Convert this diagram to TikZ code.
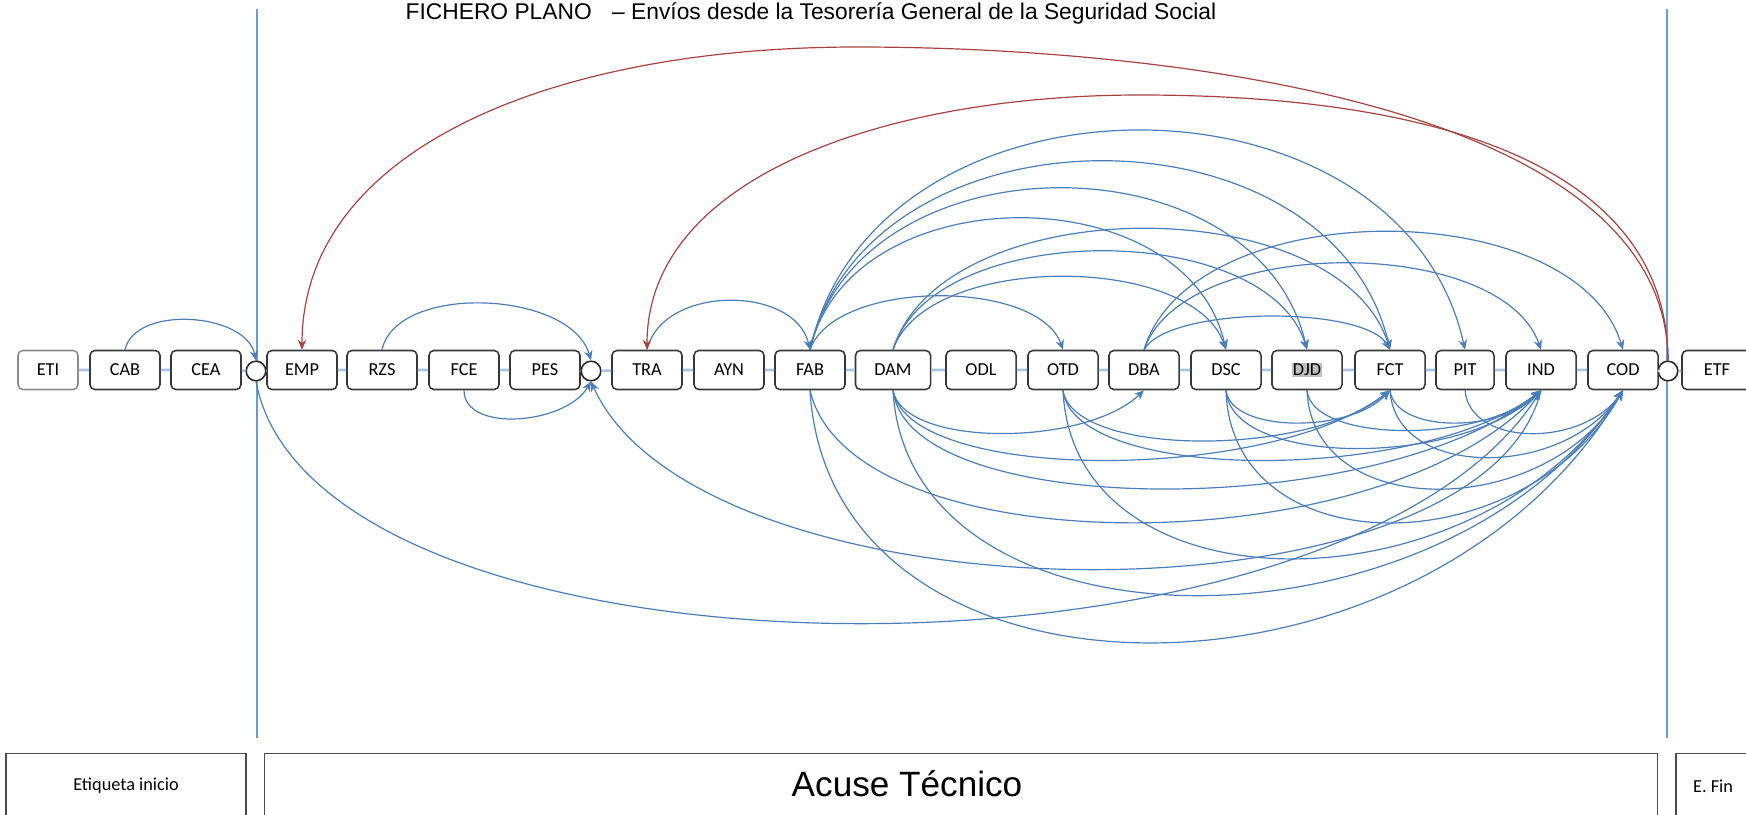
\documentclass[tikz,border=0pt]{standalone}
\usepackage{fontspec}
\setmainfont{Carlito}
\newfontfamily\arialfont{Liberation Sans}
\usepackage{tikz}
\usetikzlibrary{shapes.geometric, arrows.meta, positioning}

\definecolor{arcblue}{HTML}{4A7EBB}
\definecolor{linkblue}{HTML}{A9C5E8}
\definecolor{railblue}{HTML}{6A9BD6}
\definecolor{backred}{HTML}{A8423F}

\begin{document}
\begin{tikzpicture}[
        x=0.025cm, y=-0.025cm,
        seg/.style={rectangle, draw=black!78, line width=1.1pt, rounded corners=3.5pt, fill=white, minimum width=1.75cm, minimum height=0.975cm, inner sep=0pt, font=\fontsize{13}{15}\selectfont},
        joint/.style={circle, draw=black!85, line width=1.1pt, fill=white, minimum size=0.49cm, inner sep=0pt},
        band/.style={rectangle, draw=black!70, line width=1pt, minimum height=1.625cm, font=\fontsize{13}{15}\selectfont},
        link/.style={draw=linkblue, line width=1.8pt},
        rail/.style={draw=railblue, line width=1.1pt},
        arc/.style={-{Stealth[length=7pt, width=6pt]}, draw=arcblue, line width=0.85pt},
        back/.style={-{Stealth[length=7pt, width=6pt]}, draw=backred, line width=0.85pt}
    ]
        \useasboundingbox (0,0) rectangle (1746,814);
        \clip (0,0) rectangle (1746,814);

        % Title
        \node[font=\arialfont\fontsize{16.2}{19}\selectfont] (title) at (811,13) {FICHERO PLANO\hspace{0.9em}– Envíos desde la Tesorería General de la Seguridad Social};

        % Vertical rails
        \coordinate (railLtop) at (257,9);
        \coordinate (railLbot) at (257,738);
        \coordinate (railRtop) at (1667,9);
        \coordinate (railRbot) at (1667,738);
        \draw[rail] (railLtop) -- (railLbot);
        \draw[rail] (railRtop) -- (railRbot);

        % Row of segments
        \node[seg, draw=black!45, minimum width=1.5cm] (eti) at (48,370) {ETI};
        \node[seg] (cab) at (125,370) {CAB};
        \node[seg] (cea) at (206,370) {CEA};
        \node[joint] (c1) at (256,371) {};
        \node[seg] (emp) at (302,370) {EMP};
        \node[seg] (rzs) at (382,370) {RZS};
        \node[seg] (fce) at (464,370) {FCE};
        \node[seg] (pes) at (545,370) {PES};
        \node[joint] (c2) at (591,371) {};
        \node[seg] (tra) at (647,370) {TRA};
        \node[seg] (ayn) at (729,370) {AYN};
        \node[seg] (fab) at (810,370) {FAB};
        \node[seg, minimum width=1.875cm] (dam) at (893,370) {DAM};
        \node[seg] (odl) at (981,370) {ODL};
        \node[seg] (otd) at (1063,370) {OTD};
        \node[seg] (dba) at (1144,370) {DBA};
        \node[seg] (dsc) at (1226,370) {DSC};
        \node[seg] (djd) at (1307,370) {{\setlength{\fboxsep}{0.8pt}\colorbox{black!25}{DJD}}};
        \node[seg] (fct) at (1390,370) {FCT};
        \node[seg, minimum width=1.45cm] (pit) at (1465,370) {PIT};
        \node[seg] (ind) at (1541,370) {IND};
        \node[seg] (cod) at (1623,370) {COD};
        \node[joint] (c3) at (1668,371) {};
        \node[seg] (etf) at (1717,370) {ETF};

        % Chain
        \draw[link] (eti) -- (cab) -- (cea) -- (c1) -- (emp) -- (rzs) -- (fce) -- (pes) -- (c2) -- (tra) -- (ayn) -- (fab) -- (dam) -- (odl) -- (otd) -- (dba) -- (dsc) -- (djd) -- (fct) -- (pit) -- (ind) -- (cod) -- (c3) -- (etf);

        % Bottom bands
        \node[band, minimum width=6cm] (inicio) at (126,786) {Etiqueta inicio};
        \node[band, minimum width=34.825cm] (acuse) at (961,786) {};
        \node[font=\arialfont\fontsize{25}{28}\selectfont] (acuselbl) at (907,784) {Acuse Técnico};
        \node[band, minimum width=1.85cm] (efin) at (1713,786) {E. Fin};

        % Arcs above the row
        \draw[arc] (cab.north) .. controls +(10,-45) and +(-10,-48) .. (c1.north);
        \draw[arc] (rzs.north) .. controls +(15,-67) and +(-20,-70) .. (c2.north);
        \draw[arc] (tra.north) .. controls +(15,-65) and +(-15,-65) .. (fab.north);
        \draw[arc] (fab.north) .. controls +(25,-71) and +(-25,-71) .. (otd.north);
        \draw[arc] (fab.north) .. controls +(40,-175) and +(-40,-175) .. (dsc.north);
        \draw[arc] (fab.north) .. controls +(50,-215) and +(-50,-215) .. (djd.north);
        \draw[arc] (fab.north) .. controls +(58,-251) and +(-58,-251) .. (fct.north);
        \draw[arc] (fab.north) .. controls +(65,-292) and +(-65,-292) .. (pit.north);
        \draw[arc] (dam.north) .. controls +(33,-97) and +(-33,-97) .. (dsc.north);
        \draw[arc] (dam.north) .. controls +(40,-131) and +(-40,-131) .. (djd.north);
        \draw[arc] (dam.north) .. controls +(50,-161) and +(-50,-161) .. (fct.north);
        \draw[arc] (dba.north) .. controls +(25,-44) and +(-25,-44) .. (fct.north);
        \draw[arc] (dba.north) .. controls +(40,-115) and +(-40,-115) .. (ind.north);
        \draw[arc] (dba.north) .. controls +(48,-157) and +(-48,-157) .. (cod.north);

        % Returns to EMP and TRA
        \coordinate (emptop) at (857,47);
        \coordinate (tratop) at (1140,95);
        \draw[back] (c3.north) .. controls (1667,100) and (1150,47) .. (emptop) .. controls (550,47) and (302,150) .. (emp.north);
        \draw[back] (c3.north) .. controls (1667,150) and (1400,95) .. (tratop) .. controls (890,95) and (647,175) .. (tra.north);

        % Arcs below the row
        \draw[arc] (fce.south) .. controls +(0,43) and +(-25,43) .. (c2.south);
        \draw[arc] (ind.south) .. controls +(-60,244) and +(110,244) .. (c2.south);
        \draw[arc] (c1.south) .. controls +(60,316) and +(-200,316) .. (ind.south);
        \draw[arc] (fab.south) .. controls +(40,176) and +(-160,176) .. (ind.south);
        \draw[arc] (fab.south) .. controls +(20,336) and +(-200,336) .. (cod.south);
        \draw[arc] (dam.south) .. controls +(10,57) and +(-60,57) .. (dba.south);
        \draw[arc] (dam.south) .. controls +(15,93) and +(-120,93) .. (fct.south);
        \draw[arc] (dam.south) .. controls +(15,131) and +(-160,131) .. (ind.south);
        \draw[arc] (dam.south) .. controls +(15,273) and +(-180,273) .. (cod.south);
        \draw[arc] (otd.south) .. controls +(10,67) and +(-80,67) .. (fct.south);
        \draw[arc] (otd.south) .. controls +(10,93) and +(-120,93) .. (ind.south);
        \draw[arc] (otd.south) .. controls +(10,224) and +(-150,224) .. (cod.south);
        \draw[arc] (dsc.south) .. controls +(5,43) and +(-40,43) .. (fct.south);
        \draw[arc] (dsc.south) .. controls +(5,77) and +(-80,77) .. (ind.south);
        \draw[arc] (dsc.south) .. controls +(5,176) and +(-100,176) .. (cod.south);
        \draw[arc] (djd.south) .. controls +(5,53) and +(-60,53) .. (ind.south);
        \draw[arc] (djd.south) .. controls +(5,131) and +(-80,131) .. (cod.south);
        \draw[arc] (fct.south) .. controls +(5,43) and +(-40,43) .. (ind.south);
        \draw[arc] (fct.south) .. controls +(5,89) and +(-60,89) .. (cod.south);
        \draw[arc] (pit.south) .. controls +(5,57) and +(-40,57) .. (cod.south);

    \end{tikzpicture}
\end{document}
